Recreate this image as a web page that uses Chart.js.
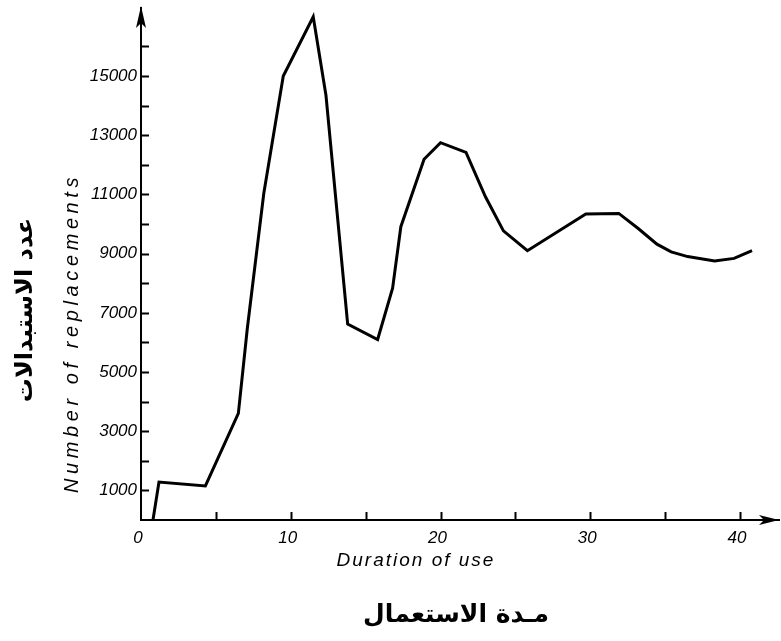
<!DOCTYPE html>
<html>
<head>
<meta charset="utf-8">
<script src="https://cdn.jsdelivr.net/npm/chart.js@4.4.0/dist/chart.umd.min.js"></script>
<style>
  html, body { margin: 0; padding: 0; background: #fff; }
  #chart { display: block; }
</style>
</head>
<body>
<canvas id="chart" width="781" height="641"></canvas>
<script>
// Duration of use (x) and number of replacements (y)
const durations = [0.8, 1.2, 4.3, 6.5, 7.1, 8.2, 9.5, 11.5, 12.35, 13.8, 15.8, 16.8, 17.35, 18.9, 20.0, 21.7, 23.0, 24.2, 25.8, 29.7, 31.9, 33.2, 34.45, 35.4, 36.5, 38.3, 39.6, 40.8];
const replacements = [0, 1280, 1150, 3600, 6480, 11040, 15000, 17000, 14350, 6620, 6100, 7830, 9910, 12190, 12750, 12420, 10920, 9770, 9100, 10340, 10360, 9850, 9320, 9060, 8900, 8750, 8840, 9100];

// tick marks and the labels written at some of them
const yTickValues = [0, 1000, 2000, 3000, 4000, 5000, 6000, 7000, 8000, 9000, 10000, 11000, 12000, 13000, 14000, 15000, 16000];
const yLabelValues = [1000, 3000, 5000, 7000, 9000, 11000, 13000, 15000];
const xTickValues = [0, 5, 10, 15, 20, 25, 30, 35, 40];
const xLabelValues = [0, 10, 20, 30, 40];

const yTitle = 'Number of replacements';
const xTitle = 'Duration of use';
const yTitleAr = 'عدد الاستبدالات';
const xTitleAr = 'مـدة الاستعمال';

const points = durations.map((d, i) => ({ x: d, y: replacements[i] }));

// inward tick marks, arrow heads and the axis titles
const axisDecor = {
  id: 'axisDecor',
  afterDraw(chart) {
    const { ctx, chartArea: a, scales: { x, y } } = chart;
    ctx.save();
    ctx.strokeStyle = '#000';
    ctx.fillStyle = '#000';
    ctx.lineWidth = 2;

    ctx.beginPath();
    y.ticks.forEach(t => {
      if (t.value > 0) {
        const py = Math.round(y.getPixelForValue(t.value)) + 0.5;
        ctx.moveTo(a.left, py);
        ctx.lineTo(a.left + 8, py);
      }
    });
    x.ticks.forEach(t => {
      if (t.value > 0) {
        const px = Math.round(x.getPixelForValue(t.value)) + 0.5;
        ctx.moveTo(px, a.bottom);
        ctx.lineTo(px, a.bottom - 8);
      }
    });
    ctx.stroke();

    // arrow on the y axis
    ctx.beginPath();
    ctx.moveTo(a.left, a.top - 2);
    ctx.lineTo(a.left - 5, a.top + 20);
    ctx.lineTo(a.left, a.top + 15);
    ctx.lineTo(a.left + 5, a.top + 20);
    ctx.closePath();
    ctx.fill();

    // arrow on the x axis
    ctx.beginPath();
    ctx.moveTo(a.right, a.bottom);
    ctx.lineTo(a.right - 20, a.bottom - 5);
    ctx.lineTo(a.right - 15, a.bottom);
    ctx.lineTo(a.right - 20, a.bottom + 5);
    ctx.closePath();
    ctx.fill();

    // titles
    ctx.textAlign = 'center';
    ctx.textBaseline = 'middle';

    ctx.font = 'italic 20px "Liberation Sans"';
    ctx.letterSpacing = '4.6px';
    ctx.save();
    ctx.translate(72, 333);
    ctx.rotate(-Math.PI / 2);
    ctx.fillText(yTitle, 0, 0);
    ctx.restore();

    ctx.font = 'italic 19px "Liberation Sans"';
    ctx.letterSpacing = '2px';
    ctx.fillText(xTitle, 416, 561);

    ctx.letterSpacing = '0px';
    ctx.font = 'bold 24px "DejaVu Sans"';
    ctx.save();
    ctx.translate(26, 310);
    ctx.rotate(-Math.PI / 2);
    ctx.fillText(yTitleAr, 0, 0);
    ctx.restore();
    ctx.font = 'bold 25px "DejaVu Sans"';
    ctx.fillText(xTitleAr, 456, 615);

    ctx.restore();
  }
};

const tickFont = { family: 'Liberation Sans', style: 'italic', size: 17 };

new Chart(document.getElementById('chart').getContext('2d'), {
  type: 'line',
  data: {
    datasets: [{
      data: points,
      borderColor: '#000',
      borderWidth: 3,
      pointRadius: 0,
      tension: 0,
      fill: false
    }]
  },
  options: {
    responsive: false,
    animation: false,
    events: [],
    layout: { padding: { top: 8, right: 2, left: 0, bottom: 0 } },
    plugins: {
      legend: { display: false },
      tooltip: { enabled: false }
    },
    scales: {
      x: {
        type: 'linear',
        min: 0,
        max: 42.6,
        grid: { display: false, drawTicks: false },
        border: { display: true, color: '#000', width: 2 },
        ticks: {
          maxRotation: 0,
          autoSkip: false,
          padding: 8,
          labelOffset: -3,
          color: '#000',
          font: tickFont,
          callback: v => xLabelValues.includes(v) ? String(v) : ''
        },
        afterBuildTicks(scale) {
          scale.ticks = xTickValues.map(v => ({ value: v }));
        },
        afterFit(scale) {
          scale.height = 121;
          scale.paddingLeft = 0;
          scale.paddingRight = 0;
        }
      },
      y: {
        type: 'linear',
        min: 0,
        max: 17300,
        grid: { display: false, drawTicks: false },
        border: { display: true, color: '#000', width: 2 },
        ticks: {
          autoSkip: false,
          padding: 4,
          color: '#000',
          font: tickFont,
          callback: v => yLabelValues.includes(v) ? String(v) : ''
        },
        afterBuildTicks(scale) {
          scale.ticks = yTickValues.map(v => ({ value: v }));
        },
        afterFit(scale) {
          scale.width = 141;
          scale.paddingTop = 0;
          scale.paddingBottom = 0;
        }
      }
    }
  },
  plugins: [axisDecor]
});
</script>
</body>
</html>
